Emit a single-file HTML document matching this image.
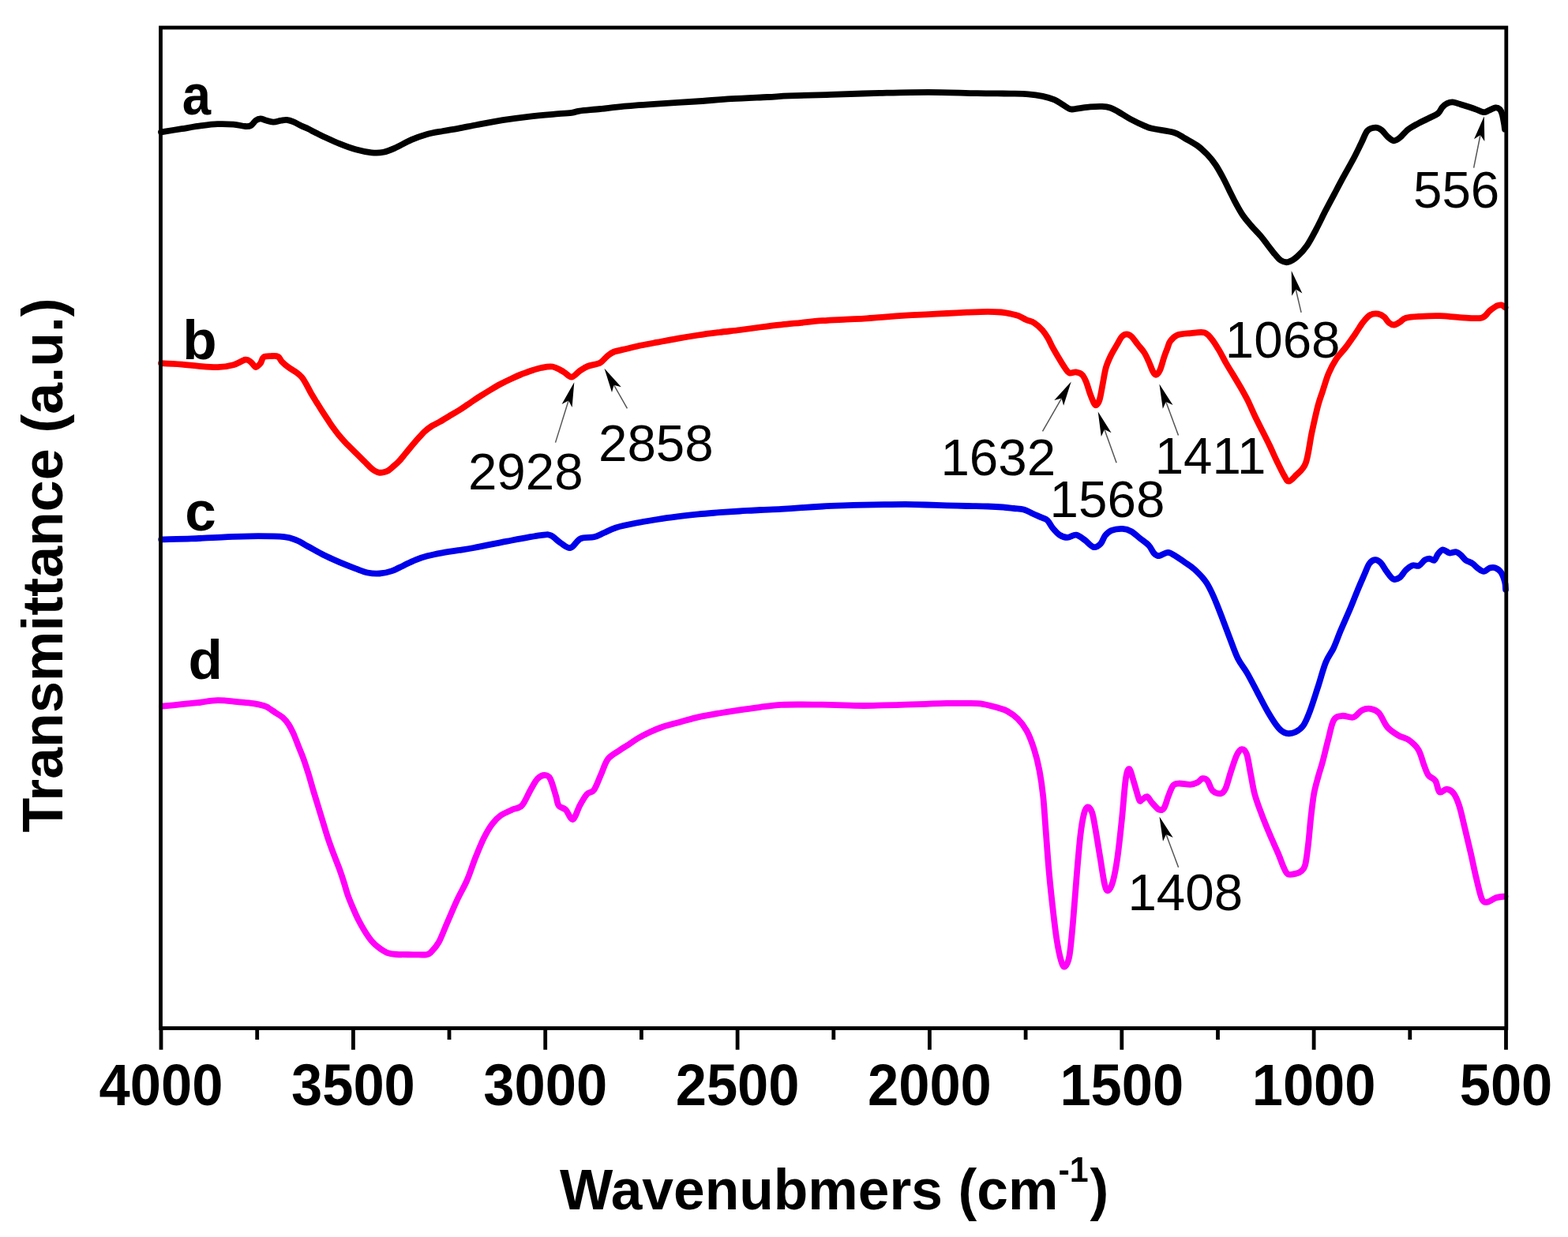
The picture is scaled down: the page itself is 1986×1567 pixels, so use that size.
<!DOCTYPE html><html><head><meta charset="utf-8"><title>FTIR spectra</title><style>html,body{margin:0;padding:0;background:#fff;}svg{display:block;}</style></head><body>
<svg width="1986" height="1567" viewBox="0 0 1986 1567">
<rect width="100%" height="100%" fill="#fff"/>
<path d="M204 167.3C208.4 166.6 221.6 164.5 230.2 163.2C238.8 161.8 247.8 160.2 255.4 159.2C262.9 158.2 268.8 157.4 275.5 157.2C282.2 156.9 289.8 157.2 295.7 157.7C301.6 158.2 307.1 159.8 310.8 160C314.5 160.2 315.6 160.2 317.8 159C320 157.8 321.9 154 323.9 152.6C325.9 151.2 327.9 150.4 329.9 150.3C331.9 150.2 333.3 151.5 336 152.2C338.7 152.9 342.6 154.5 346 154.6C349.4 154.7 353.2 153.1 356.1 152.7C359 152.2 360.6 151.7 363.1 151.9C365.6 152.2 368.2 153 371.2 154.2C374.2 155.4 378.2 157.7 381.3 159.2C384.4 160.7 386.9 161.6 390 163.1C393.1 164.6 396.6 166.5 400 168.2C403.4 169.9 405.1 170.9 410.1 173.2C415.2 175.5 423.6 179.5 430.3 182.2C437 184.9 443.7 187.5 450.4 189.3C457.1 191.2 464.7 192.7 470.6 193.3C476.5 193.9 480.7 193.8 485.7 192.8C490.7 191.8 494.9 189.9 500.8 187.3C506.7 184.7 514.2 180.1 520.9 177.2C527.6 174.3 534.4 171.9 541.1 170C547.8 168.1 554.7 167.2 561.2 166C567.7 164.8 572.8 164.1 580 162.8C587.2 161.5 595 159.8 604.5 158C614 156.2 626 153.9 636.7 152.2C647.5 150.5 658.5 149 669 147.8C679.5 146.6 690.8 145.6 700 144.8C709.2 144 718.3 143.5 724 142.8C729.7 142.1 727.9 141.4 734 140.6C740.1 139.8 751 139 760.4 138C769.8 137 778 135.7 790.6 134.6C803.2 133.5 820.9 132.3 836 131.3C851.1 130.3 866.2 129.5 881.3 128.5C896.4 127.5 911.5 126.1 926.6 125.2C941.7 124.3 959.7 123.6 971.9 123C984.1 122.4 986.7 121.9 1000 121.4C1013.3 120.9 1032.9 120.5 1051.9 119.9C1070.9 119.3 1093.2 118.4 1113.9 117.9C1134.6 117.4 1155.2 116.8 1175.8 116.8C1196.4 116.8 1220.3 117.9 1237.7 118.2C1255.1 118.5 1269.2 118.4 1280 118.6C1290.8 118.8 1295.7 118.8 1302.4 119.3C1309.2 119.8 1315 120.7 1320.5 121.9C1326 123.1 1331.4 124.7 1335.6 126.4C1339.8 128.2 1342.3 130.4 1345.7 132.4C1349.1 134.4 1352.4 137.5 1355.7 138.3C1359 139.1 1361.6 137.8 1365.8 137.3C1370 136.8 1375.9 135.8 1380.9 135.4C1385.9 135 1391.8 134.7 1396 134.9C1400.2 135.1 1402.7 135.4 1406.1 136.5C1409.5 137.6 1412 139.2 1416.2 141.5C1420.4 143.8 1425.7 147.6 1431.3 150.6C1436.9 153.6 1445.4 157.6 1450 159.6C1454.6 161.6 1452.9 161.4 1459.1 162.8C1465.3 164.2 1480.2 165.8 1487.2 167.9C1494.2 170 1496.4 172.7 1501.3 175.5C1506.2 178.3 1511.9 181.1 1516.6 184.5C1521.3 187.9 1525.5 191.9 1529.3 195.9C1533.1 199.9 1536.4 204 1539.6 208.7C1542.8 213.4 1545.5 218.5 1548.5 224C1551.5 229.5 1554.6 236.4 1557.4 241.9C1560.2 247.4 1562.3 252.1 1565.1 257.2C1567.9 262.3 1570.8 267.8 1574 272.5C1577.2 277.2 1580.4 280.8 1584.2 285.3C1588 289.8 1593.4 295.1 1597 299.3C1600.6 303.6 1602.9 307 1605.9 310.8C1608.9 314.6 1612.1 319.1 1614.9 322.3C1617.7 325.5 1619.8 328.4 1622.5 330C1625.2 331.6 1628 332.8 1631.4 332C1634.8 331.2 1638.8 328.8 1642.8 325.3C1646.8 321.8 1651.5 316.8 1655.5 311C1659.5 305.2 1663.2 297.8 1667 290.6C1670.8 283.4 1674.7 275.1 1678.5 267.6C1682.3 260.2 1686.2 253.1 1690 245.9C1693.8 238.7 1697.5 231.6 1701.5 224.2C1705.5 216.8 1710.4 208.5 1714.2 201.3C1718 194.1 1721.4 186.8 1724.4 180.8C1727.4 174.8 1729.1 168.7 1732.1 165.5C1735.1 162.3 1739.3 161.8 1742.3 161.7C1745.3 161.6 1747.5 163 1750 164.9C1752.5 166.8 1755 171 1757.6 173.2C1760.1 175.4 1762.8 178.1 1765.3 178.3C1767.8 178.5 1769.9 176.8 1772.9 174.5C1775.9 172.2 1779.4 167.3 1783.2 164.3C1787 161.3 1791.7 158.9 1795.9 156.6C1800.2 154.2 1804.5 152.4 1808.7 150.2C1813 148 1818.4 146 1821.4 143.6C1824.4 141.2 1824.9 137.9 1826.8 135.8C1828.7 133.7 1830.7 132.1 1832.9 131C1835.1 129.9 1837.4 129.2 1839.8 129.3C1842.2 129.4 1844.6 130.5 1847.5 131.4C1850.4 132.3 1853.8 133.3 1857.4 134.5C1861 135.7 1865.3 137 1868.9 138.3C1872.5 139.6 1876.1 141.9 1878.9 142.2C1881.7 142.5 1883.2 140.9 1885.8 139.9C1888.3 138.9 1891.9 136.7 1894.2 136.4C1896.5 136.1 1898.1 137 1899.5 138.3C1900.9 139.7 1901.7 141.6 1902.6 144.5C1903.5 147.4 1904.3 152.7 1904.9 155.9C1905.5 159.1 1905.8 162.3 1906 163.6" fill="none" stroke="#000" stroke-width="7.8" stroke-linejoin="round" stroke-linecap="round"/>
<path d="M204 460.2C208.4 460.4 222.5 461.1 230.2 461.7C237.9 462.3 242.8 463.1 250.4 463.7C257.9 464.3 267.9 465.4 275.5 465.2C283.1 464.9 289.8 463.8 295.7 462.2C301.6 460.6 307.1 456.3 310.8 455.7C314.5 455.1 315.6 457.1 317.8 458.7C320 460.2 321.9 464.8 323.9 465C325.9 465.2 328.2 462.3 329.9 460.2C331.6 458.1 331.7 453.9 333.9 452.4C336.1 450.9 340 451.2 343 451.1C346 451 349.8 450.5 352.1 451.7C354.5 452.9 354.9 455.9 357.1 458.2C359.3 460.4 362 462.8 365.2 465.2C368.4 467.6 373.3 470.2 376.2 472.3C379.1 474.4 380.3 475.4 382.3 477.9C384.3 480.3 386 483.6 388 487C390 490.4 392 494.7 394.2 498.5C396.4 502.3 398.7 505.9 401 509.6C403.3 513.3 405.6 517.1 407.9 520.7C410.2 524.3 412.4 527.6 414.7 531C417 534.4 419.2 538 421.6 541.3C424 544.6 426.4 547.9 429 551C431.6 554.1 434.2 557.1 437 560.1C439.8 563.1 442.7 565.9 445.6 568.7C448.5 571.6 451.5 574.5 454.2 577.2C456.9 579.9 459.4 582.4 462 585C464.6 587.6 467.5 590.7 469.6 592.6C471.7 594.5 473 595.5 474.7 596.5C476.4 597.5 477.9 598.3 479.8 598.6C481.7 598.9 483.8 598.7 485.8 598.3C487.8 597.9 489.7 597.4 491.8 596.1C493.9 594.8 496.3 592.5 498.6 590.5C500.9 588.5 502.9 586.9 505.5 584.1C508.1 581.4 511.1 577.4 514 574C516.9 570.6 519.9 566.7 522.6 563.5C525.3 560.3 527.7 557.5 530.3 554.6C532.9 551.8 535.3 548.9 538.1 546.4C540.9 543.9 543.9 541.6 547 539.6C550.1 537.6 553.1 536.5 556.9 534.4C560.7 532.2 565.4 529.3 569.7 526.7C574 524.1 578.3 521.7 582.6 519C586.9 516.3 591.1 513.2 595.4 510.4C599.7 507.5 603.9 504.6 608.2 501.9C612.5 499.2 616.7 496.6 621 494C625.3 491.4 629.6 488.8 633.9 486.5C638.2 484.2 642.4 482.2 646.7 480.2C651 478.2 655.3 476.2 659.6 474.5C663.9 472.8 668.1 471.1 672.4 469.7C676.7 468.3 680.7 466.9 685.3 466C689.9 465.1 695.1 463.7 699.8 464.5C704.5 465.3 709.5 468.6 713.5 470.8C717.5 473 720.4 477.8 723.8 477.7C727.2 477.6 730.7 472.3 734.1 470C737.5 467.7 740.1 465.7 744.4 464C748.7 462.3 755.8 461.7 759.8 459.7C763.8 457.7 765.4 454.3 768.3 452C771.1 449.7 772.6 447.7 776.9 446C781.2 444.3 788.1 443.1 794 441.7C799.9 440.3 805.6 438.8 812 437.5C818.4 436.2 824.7 435.1 832.4 433.7C840.1 432.2 849.3 430.3 858 428.8C866.7 427.3 875.9 425.8 884.7 424.5C893.5 423.2 902.3 422.1 911 421C919.7 419.9 928.4 419.1 937.1 418C945.8 416.9 954.3 415.6 963 414.5C971.7 413.4 980.8 412.3 989.5 411.4C998.2 410.4 1006.3 409.7 1015 408.8C1023.7 407.9 1033 406.9 1041.8 406.2C1050.6 405.5 1059.3 405.2 1068 404.8C1076.7 404.4 1085.5 404.1 1094.2 403.6C1102.9 403.1 1111.3 402.3 1120 401.6C1128.7 400.9 1137.8 400.2 1146.6 399.6C1155.4 399.1 1164.3 398.7 1173 398.3C1181.7 397.9 1190.3 397.4 1199 397C1207.7 396.6 1216.3 396.1 1225 395.7C1233.7 395.3 1244.1 394.8 1251.3 394.8C1258.5 394.8 1263.2 395.1 1268 395.5C1272.8 395.9 1276.3 396.7 1280 397.5C1283.7 398.3 1286.8 398.9 1290.1 400.2C1293.4 401.5 1296.8 403.7 1300.1 405.2C1303.4 406.7 1306.8 407 1310.2 409.2C1313.6 411.4 1317.5 415.1 1320.3 418.3C1323.1 421.5 1325.1 424.6 1327.3 428.3C1329.5 432 1331.2 436.4 1333.4 440.4C1335.6 444.4 1337.9 448.3 1340.4 452.5C1342.9 456.7 1346.2 462.3 1348.5 465.6C1350.8 468.9 1352.2 471.4 1354.5 472.4C1356.8 473.4 1359.9 471 1362.6 471.4C1365.3 471.8 1368.4 472.6 1370.6 474.7C1372.8 476.8 1374 479.7 1375.7 483.7C1377.4 487.7 1379 494.3 1380.7 498.8C1382.4 503.3 1384.4 508.5 1385.7 510.9C1387 513.2 1387.6 513.7 1388.8 512.9C1390 512.1 1391.5 510.4 1392.8 505.9C1394.1 501.4 1395.5 492.4 1396.8 485.7C1398.1 479 1399.1 471.5 1400.8 465.6C1402.5 459.7 1404.6 455.4 1406.9 450.5C1409.2 445.6 1412.6 440.4 1414.9 436.4C1417.2 432.4 1419 428.5 1421 426.3C1423 424.1 1425 423.3 1427 423.3C1429 423.3 1430.8 424.1 1433.1 426.3C1435.4 428.5 1438.4 433 1441.1 436.4C1443.8 439.8 1446.8 442.8 1449.2 446.5C1451.6 450.2 1453.4 454.5 1455.2 458.5C1457 462.5 1458.8 467.9 1460.3 470.6C1461.8 473.3 1462.8 475 1464.3 474.7C1465.8 474.4 1467.6 472.3 1469.3 468.6C1471 464.9 1472.9 457 1474.4 452.5C1475.9 448 1477.2 444.9 1478.5 441.5C1479.8 438.1 1480.1 435 1482.3 432.1C1484.5 429.2 1487.1 426.1 1491.4 424.4C1495.7 422.7 1502.7 422.6 1508.3 422.1C1513.9 421.6 1520.8 420.2 1525.1 421.3C1529.4 422.4 1531.2 425.4 1534.3 429C1537.4 432.6 1540.4 437.7 1543.5 442.8C1546.6 447.9 1549.6 454.2 1552.7 459.6C1555.8 465 1558.8 469.8 1561.9 474.9C1565 480 1568 484.9 1571.1 490.3C1574.2 495.7 1577.2 501 1580.3 507.1C1583.3 513.2 1586.4 520.6 1589.4 527C1592.5 533.4 1595.5 539.3 1598.6 545.4C1601.7 551.5 1604.7 557.4 1607.8 563.8C1610.9 570.2 1613.9 577.3 1617 583.7C1620.1 590.1 1623.7 597.7 1626.2 602C1628.8 606.3 1629.8 609.7 1632.3 609.7C1634.8 609.7 1637.9 605.8 1641.5 602C1645.1 598.2 1650.5 595.6 1653.8 586.7C1657.1 577.8 1658.9 560.5 1661.4 548.5C1664 536.5 1666.8 523.6 1669.1 514.8C1671.4 506 1672.8 502.8 1675.1 495.9C1677.4 489 1679.8 480.1 1682.7 473.2C1685.6 466.3 1689.1 459.8 1692.7 454.3C1696.3 448.9 1700.1 445.7 1704.1 440.5C1708.1 435.3 1712.8 428.3 1716.6 422.9C1720.4 417.4 1723.5 411.8 1726.7 407.8C1729.9 403.8 1732.3 400.7 1735.5 399C1738.7 397.3 1742.6 397.3 1745.6 397.7C1748.5 398.1 1750.9 399.6 1753.2 401.5C1755.5 403.4 1757.3 407.3 1759.4 409C1761.5 410.7 1763.4 411.7 1765.7 411.5C1768 411.3 1770.8 409.3 1773.3 407.8C1775.8 406.3 1776.6 403.9 1780.8 402.7C1785 401.5 1791.4 401.2 1798.5 400.8C1805.6 400.4 1815.2 400 1823.6 400.2C1832 400.4 1840 401.7 1848.8 402.1C1857.6 402.5 1870.2 404.1 1876.5 402.7C1882.8 401.3 1883.4 396.4 1886.6 393.9C1889.8 391.4 1892.9 388.9 1895.4 387.6C1897.9 386.4 1899.9 386.1 1901.7 386.4C1903.5 386.7 1905.7 389 1906.5 389.5" fill="none" stroke="#ff0000" stroke-width="7.8" stroke-linejoin="round" stroke-linecap="round"/>
<path d="M204.2 683.4C210.5 683.2 228.9 682.9 242.3 682.4C255.7 681.9 270.5 680.8 284.6 680.3C298.7 679.8 314.3 679.2 326.9 679.2C339.5 679.2 352 679.3 360 680.1C368 680.9 370.1 682.2 375.1 684.2C380.1 686.2 384.3 689 390.2 692.2C396.1 695.4 403.7 699.9 410.4 703.3C417.1 706.7 423.8 709.5 430.5 712.4C437.2 715.2 444.7 718.2 450.6 720.4C456.5 722.6 460.7 724.5 465.7 725.5C470.7 726.5 475.8 726.9 480.8 726.5C485.9 726.1 490.9 725.1 496 723.4C501.1 721.7 506.1 718.8 511.1 716.4C516.1 714 521.2 711.3 526.2 709.3C531.2 707.3 535.7 705.8 541.3 704.3C546.9 702.8 553.5 701.5 560 700.3C566.5 699.1 573.9 698 580.6 697C587.3 696 589.7 695.9 600 694C610.3 692.1 628.2 688.2 642.3 685.6C656.4 683 675.4 679.4 684.6 678.2C693.8 677 693.1 676.6 697.3 678.2C701.5 679.8 705.8 685.1 710 687.7C714.2 690.3 718.4 694.9 722.6 694C726.8 693.1 730.3 684.7 735.3 682.4C740.2 680.1 747.4 681.5 752.3 680.3C757.2 679.1 760.3 677 764.9 675C769.5 673 773.1 670.5 780 668.4C786.9 666.3 797.3 664.2 806 662.5C814.7 660.8 823.7 659.4 832.4 658C841.1 656.6 849.3 655.5 858 654.4C866.7 653.3 875.9 652.3 884.7 651.4C893.5 650.5 902.3 649.9 911 649.2C919.7 648.6 928.4 648 937.1 647.5C945.8 647 954.3 646.4 963 646C971.7 645.6 980.8 645.4 989.5 644.9C998.2 644.4 1006.3 643.8 1015 643.2C1023.7 642.6 1033 642 1041.8 641.5C1050.6 641 1059.3 640.7 1068 640.4C1076.7 640.1 1085.5 639.8 1094.2 639.6C1102.9 639.4 1111.3 639.3 1120 639.2C1128.7 639.1 1137.8 638.9 1146.6 638.9C1155.4 638.9 1164.3 639.2 1173 639.5C1181.7 639.8 1190.3 640.1 1199 640.4C1207.7 640.6 1216.3 640.8 1225 641C1233.7 641.2 1243.8 641.2 1251.3 641.5C1258.8 641.8 1264.5 642.1 1270 642.5C1275.5 642.9 1279.6 643.5 1284 644C1288.4 644.5 1292.6 644.3 1296.6 645.4C1300.5 646.5 1304 648.8 1307.7 650.5C1311.4 652.2 1315.7 654 1318.8 655.4C1321.9 656.8 1324.1 656.8 1326.5 659C1328.9 661.2 1330.6 665.6 1333.2 668.7C1335.8 671.8 1338.9 675.6 1342 677.6C1345.1 679.6 1348.5 680.9 1352 680.9C1355.5 680.9 1359.4 677 1363.1 677.6C1366.8 678.2 1370.5 681.7 1374.2 684.3C1377.9 686.9 1381.9 692.4 1385.2 693.1C1388.5 693.8 1391.7 691.1 1394.1 688.7C1396.5 686.3 1397.4 681.5 1399.6 678.7C1401.8 675.9 1403.7 673.6 1407.4 672.1C1411.1 670.6 1417.5 669.7 1421.8 669.9C1426 670.1 1429.2 671.2 1432.9 673.2C1436.6 675.2 1440.3 679 1444 682C1447.7 685 1452 687.8 1455 690.9C1458 694 1459.5 698.7 1461.7 700.9C1463.9 703.1 1465.3 704.4 1468.3 704.2C1471.2 704 1475.7 699.6 1479.4 699.8C1483.1 700 1487.1 703.3 1490.5 705.3C1493.9 707.3 1496.2 709.2 1500 711.9C1503.8 714.6 1508.5 717.1 1513.2 721.5C1517.9 725.9 1523.9 732 1528.1 738.1C1532.2 744.2 1534.8 750.5 1538.1 758C1541.4 765.5 1544.7 774.3 1548 782.9C1551.3 791.5 1554.7 800.8 1558 809.4C1561.3 818 1564.3 827.1 1567.9 834.3C1571.5 841.5 1575.4 845.4 1579.6 852.6C1583.8 859.8 1588.4 869.1 1592.8 877.4C1597.2 885.7 1601.7 894.8 1606.1 902.3C1610.5 909.8 1615.5 917.8 1619.4 922.2C1623.3 926.6 1625.7 928.1 1629.3 928.9C1632.9 929.7 1637.3 928.9 1640.9 927.2C1644.5 925.5 1647.9 923.3 1650.9 918.9C1654 914.5 1656.2 908.7 1659.2 900.7C1662.2 892.7 1665.8 881 1669.1 870.8C1672.4 860.6 1675.8 847.6 1679.1 839.3C1682.4 831 1685.9 827.8 1689.1 821C1692.3 814.2 1694.6 807 1698.1 798.6C1701.6 790.2 1706.6 779.4 1710.2 770.8C1713.8 762.1 1716.9 754 1719.9 746.7C1722.9 739.5 1725.9 732.8 1728.3 727.3C1730.7 721.8 1732.2 717 1734.4 714C1736.6 711 1739.2 709.4 1741.6 709.2C1744 709 1746.5 710.6 1748.9 713C1751.3 715.4 1753.5 720.3 1756.1 723.7C1758.7 727.1 1761.8 732.2 1764.6 733.5C1767.4 734.8 1770.4 733.3 1773 731.5C1775.6 729.7 1777.7 725 1780.3 722.5C1782.9 720 1786 717.3 1788.8 716.3C1791.6 715.3 1794.6 717.8 1797.2 716.7C1799.8 715.6 1802.3 711 1804.5 709.5C1806.7 708 1808.5 707.6 1810.5 707.6C1812.5 707.6 1814.8 710.8 1816.6 709.8C1818.4 708.8 1819.6 704 1821.4 701.8C1823.2 699.5 1825 696.5 1827.4 696.3C1829.8 696.1 1833.1 700 1835.9 700.5C1838.7 701 1842 698.8 1844.4 699.3C1846.8 699.8 1848.4 701.5 1850.4 703.2C1852.4 704.9 1854 707.8 1856.4 709.6C1858.8 711.4 1862.3 712 1864.9 713.8C1867.5 715.5 1869.7 718.4 1872.1 720.1C1874.5 721.8 1877 724 1879.4 723.9C1881.8 723.8 1884.2 720.4 1886.6 719.6C1889 718.9 1891.5 718.5 1893.9 719.4C1896.3 720.3 1899.1 722 1901.1 724.9C1903.1 727.8 1905 733.4 1906 737C1907 740.6 1906.8 745.1 1907 746.7" fill="none" stroke="#0000ea" stroke-width="7.8" stroke-linejoin="round" stroke-linecap="round"/>
<path d="M205 894.7C209.2 894.3 222.6 893 230.2 892.2C237.8 891.5 242.8 891 250.4 890.2C257.9 889.4 267.1 887.4 275.5 887.2C283.9 887 293.1 888.5 300.7 889.2C308.2 889.9 315.1 890.4 320.8 891.2C326.5 892 331.7 893.3 334.9 894.2C338.1 895.1 337.6 895.3 340 896.8C342.4 898.3 346.1 901 349.2 903C352.3 905 355.6 906.6 358.4 909.1C361.2 911.6 363.7 914.7 366 918.3C368.3 921.9 370.1 925.9 372.2 930.5C374.2 935.1 376.3 940.8 378.3 945.9C380.3 951 382.4 955.6 384.4 961.2C386.4 966.8 388.4 973 390.5 979.6C392.6 986.2 394.6 994.1 396.7 1001C398.8 1007.9 400.8 1014.3 402.8 1020.9C404.8 1027.5 406.9 1034.2 408.9 1040.8C410.9 1047.4 412.7 1053.8 415 1060.7C417.3 1067.6 420.1 1075.3 422.7 1082.2C425.3 1089.1 428.2 1096 430.4 1102.1C432.6 1108.2 434.4 1113.8 436 1119C437.6 1124.2 438.6 1128.4 440.3 1133.3C442 1138.2 444.2 1143.5 446.4 1148.6C448.6 1153.7 450.7 1158.8 453.3 1163.9C455.9 1169 458.9 1174.5 461.8 1179.2C464.7 1183.9 467.8 1188.6 470.9 1192.2C473.9 1195.8 476.9 1198.3 480.1 1200.7C483.3 1203.1 486.5 1205.4 490.1 1206.8C493.8 1208.2 496.4 1208.6 502 1209C507.6 1209.4 517.4 1209.2 523.7 1209.3C530 1209.3 536.3 1209.8 540 1209.3C543.7 1208.8 543.4 1208.6 546 1206C548.6 1203.4 552.3 1199.9 555.7 1193.7C559.1 1187.5 562.6 1177.6 566.5 1168.7C570.4 1159.8 574.8 1149 579 1140.1C583.2 1131.2 587.6 1124 591.5 1115.1C595.4 1106.2 598.6 1095.4 602.2 1086.5C605.8 1077.6 609.3 1068.7 612.9 1061.5C616.5 1054.3 620 1048.4 623.6 1043.6C627.2 1038.8 630.1 1035.9 634.3 1032.9C638.5 1029.9 644.1 1027.9 648.6 1025.8C653.1 1023.7 657.2 1024.6 661.1 1020.4C665 1016.2 668.6 1006.4 671.9 1000.7C675.2 995.1 677.8 989.6 680.8 986.5C683.8 983.4 687 982 689.7 982C692.4 982 694.5 982.2 696.9 986.5C699.3 990.8 702.2 1002.2 704 1007.9C705.8 1013.5 705.5 1017.4 707.6 1020.4C709.7 1023.4 713.5 1022.9 716.5 1025.8C719.5 1028.7 722.5 1038.9 725.5 1038C728.5 1037.1 731.4 1025.7 734.4 1020.4C737.4 1015.1 740.3 1009.4 743.3 1006.1C746.3 1002.8 749.3 1004.9 752.3 1000.7C755.3 996.5 758.2 987.7 761.2 981.1C764.2 974.5 766.2 966.5 770.1 961.4C774 956.3 780.2 953.6 784.4 950.7C788.5 947.8 791.1 946.5 795 944C798.9 941.5 803 938.2 807.6 935.5C812.2 932.8 817.5 930 822.9 927.5C828.3 925 833.5 922.7 840 920.5C846.5 918.3 854.5 916.5 862 914.5C869.5 912.5 876.5 910.2 884.7 908.4C892.9 906.6 902.3 905 911 903.5C919.7 902 928.4 900.6 937.1 899.3C945.8 898 954.3 896.9 963 895.8C971.7 894.7 980.8 893.4 989.5 892.9C998.2 892.4 1006.3 892.5 1015 892.5C1023.7 892.5 1033 892.6 1041.8 892.7C1050.6 892.9 1059.3 893.2 1068 893.4C1076.7 893.6 1085.5 894 1094.2 894C1102.9 894 1111.3 893.6 1120 893.4C1128.7 893.2 1137.8 893 1146.6 892.7C1155.4 892.4 1164.3 892.1 1173 891.8C1181.7 891.5 1190.3 891 1199 890.9C1207.7 890.8 1217.4 890.8 1225 890.9C1232.6 891 1238 890.8 1244.6 891.8C1251.2 892.8 1259.2 895.2 1264.4 896.7C1269.6 898.2 1271.9 898.7 1276 901C1280.1 903.3 1284.9 906.4 1289 910.5C1293.1 914.6 1297 919.5 1300.5 925.9C1304 932.3 1307 940.5 1309.7 948.9C1312.4 957.3 1314.7 966.4 1316.6 976.4C1318.5 986.4 1319.9 996 1321.2 1008.6C1322.5 1021.2 1323.4 1037.3 1324.6 1052.2C1325.8 1067.1 1326.8 1082.8 1328.1 1098.1C1329.4 1113.4 1331 1128.8 1332.7 1144.1C1334.4 1159.4 1336.5 1177.8 1338.4 1190C1340.3 1202.2 1342.4 1211.8 1344.1 1217.5C1345.8 1223.2 1347 1225.5 1348.7 1224.4C1350.4 1223.3 1352.8 1220.3 1354.5 1210.7C1356.2 1201.1 1357.6 1183.8 1359.1 1167C1360.6 1150.2 1362.2 1127.6 1363.7 1109.6C1365.2 1091.6 1366.8 1072.1 1368.3 1059.1C1369.8 1046.1 1371.3 1037.6 1372.8 1031.5C1374.3 1025.4 1375.7 1022.8 1377.4 1022.4C1379.1 1022 1381.5 1024.3 1383.2 1029.3C1384.9 1034.3 1386.1 1042.6 1387.8 1052.2C1389.5 1061.8 1391.6 1075.2 1393.5 1086.7C1395.4 1098.2 1397.6 1114.2 1399.3 1121.1C1401 1128 1402.1 1128.8 1403.8 1128C1405.5 1127.2 1407.7 1123.4 1409.6 1116.5C1411.5 1109.6 1413.4 1100.1 1415.3 1086.7C1417.2 1073.3 1419.4 1052.6 1421.1 1036.1C1422.8 1019.6 1424.2 998.2 1425.7 987.9C1427.2 977.6 1428.5 973.7 1430.2 974.1C1431.9 974.5 1433.9 983.7 1436 990.2C1438.1 996.7 1441.2 1009.4 1442.9 1013.2C1444.6 1017 1444.8 1013.7 1446.4 1013C1448.1 1012.3 1450.7 1008.5 1452.8 1009.1C1454.9 1009.7 1456.5 1014 1459.1 1016.8C1461.6 1019.6 1465.5 1024.6 1468.1 1025.7C1470.7 1026.8 1472.6 1026 1474.5 1023.2C1476.4 1020.4 1477.7 1013.8 1479.6 1009.1C1481.5 1004.4 1483.6 997.9 1485.9 995.1C1488.2 992.3 1490 992.7 1493.6 992.5C1497.2 992.3 1503.8 994 1507.6 993.8C1511.4 993.6 1514 992.6 1516.6 991.3C1519.2 990 1520.9 986.6 1523 986.2C1525.1 985.8 1527.2 986.2 1529.3 988.7C1531.4 991.2 1532.9 998.7 1535.7 1001.5C1538.5 1004.3 1543.1 1005.7 1545.9 1005.3C1548.7 1004.9 1550.2 1003.4 1552.3 998.9C1554.4 994.4 1556.4 985.5 1558.7 978.5C1561 971.5 1564 961.7 1566.3 956.8C1568.6 951.9 1570.6 949.3 1572.7 949.1C1574.8 948.9 1577.2 950.2 1579.1 955.5C1581 960.8 1582.5 972.5 1584.2 981C1585.9 989.5 1587 998.1 1589.3 1006.6C1591.6 1015.1 1595 1023.6 1598.2 1032.1C1601.4 1040.6 1605.1 1049.5 1608.5 1057.6C1611.9 1065.7 1615.7 1073.6 1618.7 1080.6C1621.7 1087.6 1624.2 1095.2 1626.3 1099.7C1628.4 1104.2 1628.9 1106.2 1631.4 1107.4C1634 1108.6 1638.8 1107.2 1641.6 1106.6C1644.4 1106 1646.1 1105.4 1648 1103.6C1649.9 1101.8 1651.6 1101.4 1653.1 1095.9C1654.6 1090.4 1655.7 1080.4 1656.9 1070.4C1658.1 1060.4 1659.1 1046.9 1660.3 1036C1661.5 1025.1 1662.7 1013.8 1664.3 1005.1C1665.9 996.4 1667.9 990.2 1669.7 983.6C1671.5 977 1672.9 973.5 1675 965.8C1677.1 958.1 1679.8 946.1 1682.2 937.2C1684.6 928.3 1686.3 917.3 1689.3 912.2C1692.3 907.1 1695.8 907.4 1700 906.8C1704.2 906.2 1710.1 909.8 1714.3 908.6C1718.5 907.4 1721.5 901.5 1725.1 899.7C1728.7 897.9 1732.2 897.3 1735.8 897.9C1739.4 898.5 1742.9 899.3 1746.5 903.2C1750.1 907.1 1753 916.3 1757.2 921.1C1761.4 925.9 1767 929.1 1771.5 931.8C1776 934.5 1779.8 934.2 1784 937.2C1788.2 940.2 1793.2 944.3 1796.5 949.7C1799.8 955.1 1801.6 964 1803.7 969.4C1805.8 974.8 1806.6 978.6 1809 981.9C1811.4 985.2 1815.6 985.4 1818 989C1820.4 992.6 1820.9 1001.5 1823.3 1003.3C1825.7 1005.1 1829.3 999.4 1832.3 999.7C1835.3 1000 1838.5 1001.5 1841.2 1005.1C1843.9 1008.7 1846 1013.8 1848.4 1021.2C1850.8 1028.7 1853.1 1040 1855.5 1049.8C1857.9 1059.6 1860.3 1069.7 1862.7 1080.1C1865.1 1090.5 1867.4 1102.5 1869.8 1112.3C1872.2 1122.1 1874.6 1134 1877 1139.1C1879.4 1144.2 1881.1 1143 1884.1 1142.7C1887.1 1142.4 1891.1 1138.5 1894.8 1137.3C1898.5 1136.1 1904.5 1135.8 1906.5 1135.5" fill="none" stroke="#ff00f8" stroke-width="7.8" stroke-linejoin="round" stroke-linecap="round"/>
<rect x="203.5" y="35.0" width="1704.3" height="1267.5" fill="none" stroke="#000" stroke-width="4.8"/>
<path d="M204 1302.5V1329.8M325.7 1302.5V1317M447.4 1302.5V1329.8M569 1302.5V1317M690.7 1302.5V1329.8M812.4 1302.5V1317M934.1 1302.5V1329.8M1055.8 1302.5V1317M1177.4 1302.5V1329.8M1299.1 1302.5V1317M1420.8 1302.5V1329.8M1542.5 1302.5V1317M1664.1 1302.5V1329.8M1785.8 1302.5V1317M1907.5 1302.5V1329.8" stroke="#000" stroke-width="4.8" fill="none"/>
<g font-family="Liberation Sans, Arial, sans-serif" font-weight="bold" font-size="70.5" text-anchor="middle">
<text transform="translate(204 1399.7) scale(1 1.04)">4000</text>
<text transform="translate(447.4 1399.7) scale(1 1.04)">3500</text>
<text transform="translate(690.7 1399.7) scale(1 1.04)">3000</text>
<text transform="translate(934.1 1399.7) scale(1 1.04)">2500</text>
<text transform="translate(1177.4 1399.7) scale(1 1.04)">2000</text>
<text transform="translate(1420.8 1399.7) scale(1 1.04)">1500</text>
<text transform="translate(1664.1 1399.7) scale(1 1.04)">1000</text>
<text transform="translate(1907.5 1399.7) scale(1 1.04)">500</text>
</g>
<text font-family="Liberation Sans, Arial, sans-serif" font-weight="bold" font-size="71.7" transform="translate(78.5 1054.5) rotate(-90)">Transmittance (a.u.)</text>
<text font-family="Liberation Sans, Arial, sans-serif" font-weight="bold" font-size="73" transform="translate(709 1531.8) scale(0.977 1)">Wavenubmers (cm<tspan font-size="44" dy="-35">-1</tspan><tspan dx="2" dy="35">)</tspan></text>
<g font-family="Liberation Sans, Arial, sans-serif" font-weight="bold" font-size="71">
<text transform="translate(230.7 145.2) scale(0.92 1.03)">a</text>
<text x="231.3" y="454.7">b</text>
<text x="234.2" y="672.2">c</text>
<text x="238.4" y="860">d</text>
</g>
<g font-family="Liberation Sans, Arial, sans-serif" font-size="65.5">
<text x="1790" y="262.8">556</text>
<text x="1551.8" y="452.6">1068</text>
<text x="592.9" y="619.8">2928</text>
<text x="758" y="583.7">2858</text>
<text x="1191.4" y="602.2">1632</text>
<text x="1329.6" y="655.1">1568</text>
<text x="1462.7" y="600.2">1411</text>
<text x="1428.4" y="1153.4">1408</text>
</g>
<line x1="1866.6" y1="212.6" x2="1875" y2="171" stroke="#555" stroke-width="1.5"/><path d="M1879.8 147.3L1880.3 179L1875 171L1867 176.3Z" fill="#000"/>
<line x1="1648.1" y1="395.8" x2="1641.2" y2="366.5" stroke="#555" stroke-width="1.5"/><path d="M1635.7 343L1649.4 371.6L1641.2 366.5L1636.2 374.7Z" fill="#000"/>
<line x1="703.5" y1="560.6" x2="720.1" y2="507.4" stroke="#555" stroke-width="1.5"/><path d="M727.3 484.3L724.6 515.9L720.1 507.4L711.6 511.9Z" fill="#000"/>
<line x1="794.4" y1="517.3" x2="777.5" y2="487.7" stroke="#555" stroke-width="1.5"/><path d="M765.5 466.7L786.8 490.2L777.5 487.7L775 497Z" fill="#000"/>
<line x1="1320.5" y1="546.3" x2="1344.6" y2="504.5" stroke="#555" stroke-width="1.5"/><path d="M1356.7 483.6L1347.1 513.8L1344.6 504.5L1335.3 507Z" fill="#000"/>
<line x1="1414.1" y1="586.3" x2="1398.9" y2="544.1" stroke="#555" stroke-width="1.5"/><path d="M1390.7 521.4L1407.6 548.3L1398.9 544.1L1394.8 552.9Z" fill="#000"/>
<line x1="1492.5" y1="551.5" x2="1476.8" y2="509.1" stroke="#555" stroke-width="1.5"/><path d="M1468.4 486.4L1485.5 513.1L1476.8 509.1L1472.8 517.8Z" fill="#000"/>
<line x1="1492.6" y1="1098.7" x2="1477" y2="1057" stroke="#555" stroke-width="1.5"/><path d="M1468.5 1034.4L1485.7 1061L1477 1057L1473 1065.8Z" fill="#000"/>
</svg></body></html>
